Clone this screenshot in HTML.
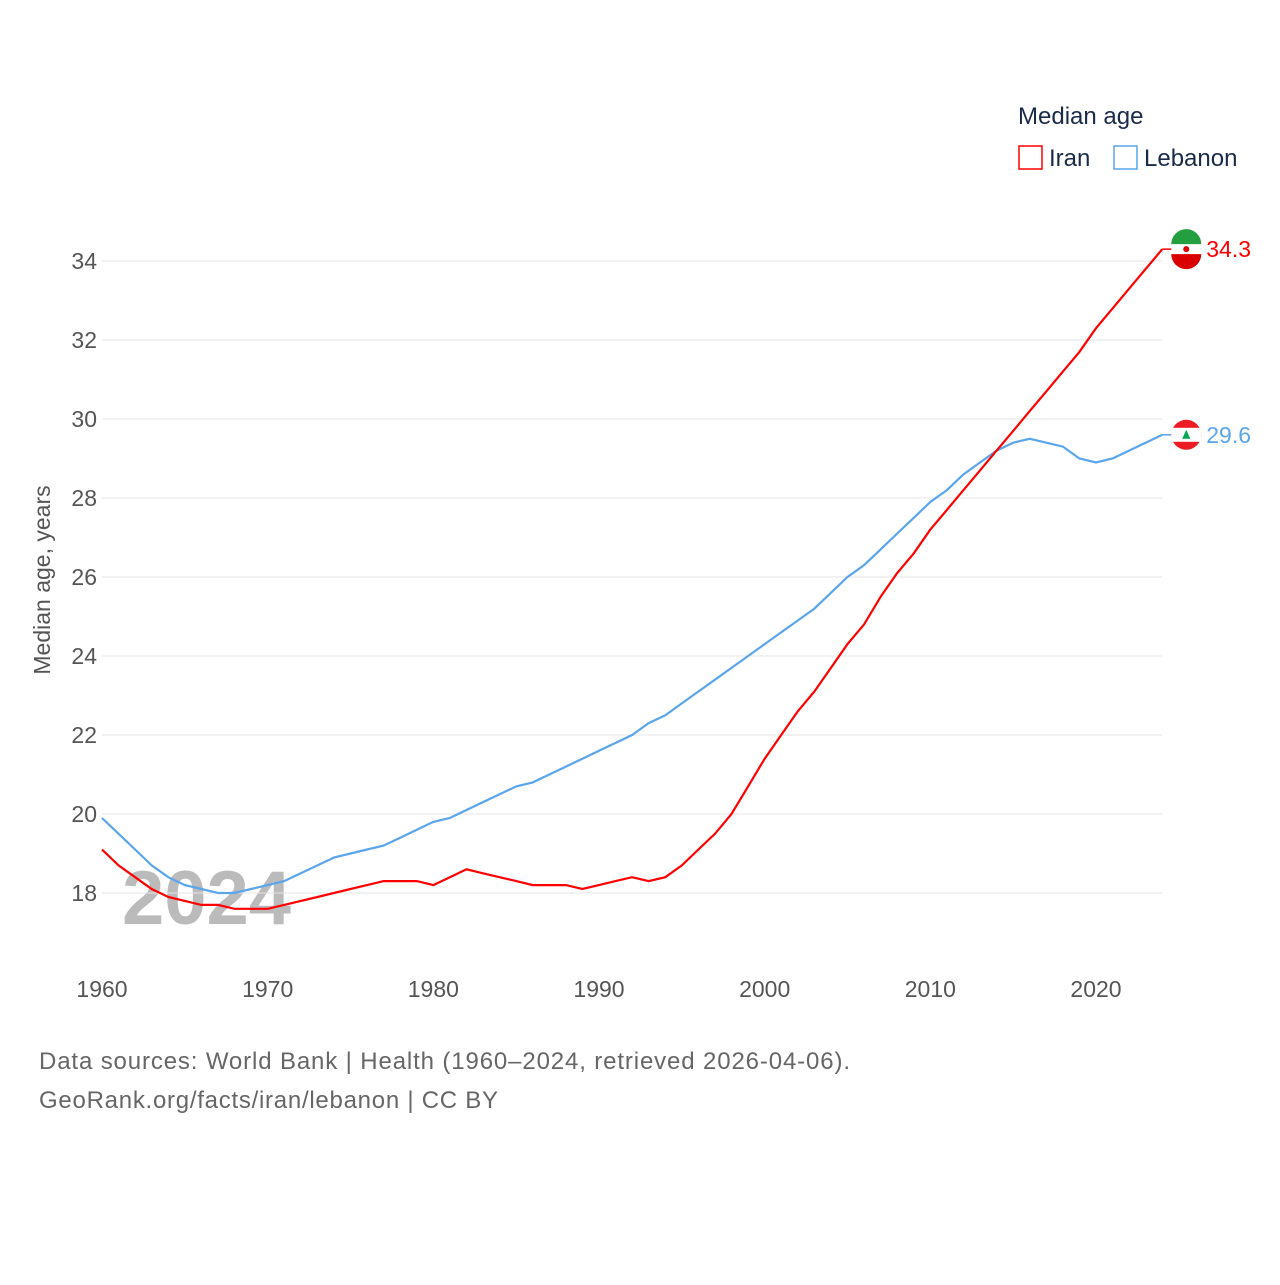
<!DOCTYPE html>
<html><head><meta charset="utf-8"><style>
body{margin:0;background:#fff;font-family:"Liberation Sans",sans-serif}
svg text{font-family:"Liberation Sans",sans-serif}
</style></head><body>
<svg id="chart" width="1280" height="1280" xmlns="http://www.w3.org/2000/svg">
<text x="1018" y="124" font-size="24" fill="#1a2b4a">Median age</text>
<g><rect x="1019" y="146" width="23" height="23" fill="none" stroke="#f00" stroke-width="1.5"/><text x="1049" y="166" font-size="24" fill="#1a2b4a">Iran</text></g>
<g><rect x="1114" y="146" width="23" height="23" fill="none" stroke="#5aa5ec" stroke-width="1.5"/><text x="1144" y="166" font-size="24" fill="#1a2b4a">Lebanon</text></g>
<text transform="translate(50,580) rotate(-90)" text-anchor="middle" font-size="23" fill="#555">Median age, years</text>
<text x="122" y="924" font-size="76" font-weight="bold" fill="#bbb">2024</text>
<g id="grid"></g><g id="lines"></g>
<text x="39" y="1069" font-size="24" fill="#666" textLength="811" lengthAdjust="spacing">Data sources: World Bank | Health (1960–2024, retrieved 2026-04-06).</text>
<text x="39" y="1108" font-size="24" fill="#666" textLength="459" lengthAdjust="spacing">GeoRank.org/facts/iran/lebanon | CC BY</text>
</svg>
<script>
const years=[];for(let y=1960;y<=2024;y++)years.push(y);
const iran=[19.1,18.7,18.4,18.1,17.9,17.8,17.7,17.7,17.6,17.6,17.6,17.7,17.8,17.9,18.0,18.1,18.2,18.3,18.3,18.3,18.2,18.4,18.6,18.5,18.4,18.3,18.2,18.2,18.2,18.1,18.2,18.3,18.4,18.3,18.4,18.7,19.1,19.5,20.0,20.7,21.4,22.0,22.6,23.1,23.7,24.3,24.8,25.5,26.1,26.6,27.2,27.7,28.2,28.7,29.2,29.7,30.2,30.7,31.2,31.7,32.3,32.8,33.3,33.8,34.3];
const lebanon=[19.9,19.5,19.1,18.7,18.4,18.2,18.1,18.0,18.0,18.1,18.2,18.3,18.5,18.7,18.9,19.0,19.1,19.2,19.4,19.6,19.8,19.9,20.1,20.3,20.5,20.7,20.8,21.0,21.2,21.4,21.6,21.8,22.0,22.3,22.5,22.8,23.1,23.4,23.7,24.0,24.3,24.6,24.9,25.2,25.6,26.0,26.3,26.7,27.1,27.5,27.9,28.2,28.6,28.9,29.2,29.4,29.5,29.4,29.3,29.0,28.9,29.0,29.2,29.4,29.6];
const yTicks=[18,20,22,24,26,28,30,32,34];
const xTicks=[1960,1970,1980,1990,2000,2010,2020];
const X=y=>102+(y-1960)*994/60, Y=v=>893-(v-18)*39.5;
const NS="http://www.w3.org/2000/svg";
const mk=(t,a,p)=>{const e=document.createElementNS(NS,t);for(const k in a)e.setAttribute(k,a[k]);p.appendChild(e);return e;};
const grid=document.getElementById('grid'),lines=document.getElementById('lines');
yTicks.forEach(v=>{
 const l=mk('line',{x1:102,x2:1162,y1:Y(v),y2:Y(v),stroke:'#e6e6e6'},grid);
 
 
 const t=mk('text',{x:97,y:Y(v)+8,'text-anchor':'end','font-size':23,fill:'#555'},grid);t.textContent=v;
 
 
});
xTicks.forEach(v=>{
 const t=mk('text',{x:X(v),y:997,'text-anchor':'middle','font-size':23,fill:'#555'},grid);t.textContent=v;
 
 
});
function series(d,c,name,flag){
 const p=mk('path',{d:d.map((v,i)=>(i?'L':'M')+X(years[i]).toFixed(1)+','+Y(v).toFixed(1)).join(''),fill:'none',stroke:c,'stroke-width':2.2},lines);
 
 
 const last=d[d.length-1],ly=Y(last),lx=X(2024);
 mk('line',{x1:lx,x2:lx+12,y1:ly,y2:ly,stroke:c,'stroke-width':1.5},lines);
 const g=mk('g',{},lines);
 
 
 if(flag==='iran'){
  mk('circle',{cx:lx+24,cy:ly,r:15,fill:'#fff'},g);
  mk('path',{d:`M${lx+9},${ly-5}A15,15 0 0 1 ${lx+39},${ly-5}Z`,fill:'#239f40'},g);
  mk('path',{d:`M${lx+9},${ly+5}A15,15 0 0 0 ${lx+39},${ly+5}Z`,fill:'#da0000'},g);
  mk('circle',{cx:lx+24,cy:ly,r:3,fill:'#da0000'},g);
 }else{
  mk('circle',{cx:lx+24,cy:ly,r:15,fill:'#ed1c24'},g);
  mk('rect',{x:lx+9,y:ly-7,width:30,height:14,fill:'#fff'},g);
  mk('path',{d:`M${lx+24},${ly-5}L${lx+28},${ly+4}L${lx+20},${ly+4}Z`,fill:'#00a651'},g);
 }
 const t=mk('text',{x:lx+44,y:ly+8,'font-size':23,fill:c},lines);t.textContent=last.toFixed(1);
 
 
}
series(lebanon,'#5aa5ec','lebanon','lebanon');
series(iran,'#ff0000','iran','iran');
</script>
</body></html>
